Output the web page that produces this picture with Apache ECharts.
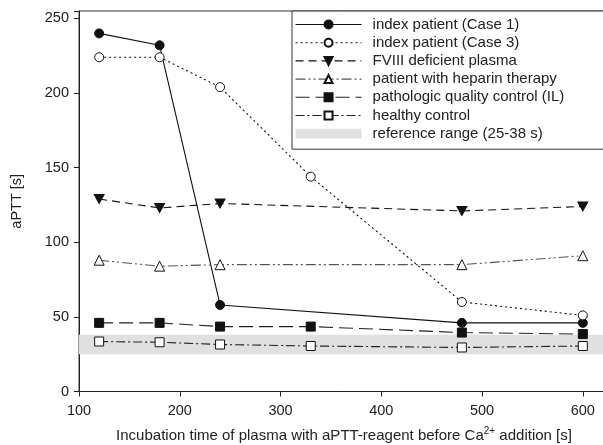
<!DOCTYPE html>
<html><head><meta charset="utf-8">
<script src="https://cdn.jsdelivr.net/npm/echarts@6/dist/echarts.min.js"></script>
<style>html,body{margin:0;padding:0;background:#fff}#c{width:603px;height:445px}</style>
</head><body><div id="c"></div>
<script>
const seriesNames = ['index patient (Case 1)','index patient (Case 3)','FVIII deficient plasma','patient with heparin therapy','pathologic quality control (IL)','healthy control'];
const refName = 'reference range (25-38 s)';
const case1X = [120,180,240,480,600];
const case1Y = [240,232,58,46,46];
const case3X = [120,180,240,330,480,600];
const case3Y = [224,224,204,144,60,51];
const fviiiX = [120,180,240,480,600];
const fviiiY = [129,123,126,121,124];
const heparinX = [120,180,240,480,600];
const heparinY = [88,84,85,85,91];
const pathX = [120,180,240,330,480,600];
const pathY = [46,46,43.5,43.5,39.5,38.5];
const healthyX = [120,180,240,330,480,600];
const healthyY = [33.5,33,31.5,30.5,29.5,30.5];
const refRange = [25,38];
const xTicks = [100,200,300,400,500,600];
const yTicks = [0,50,100,150,200,250];

const pair = (xs, ys) => xs.map((x,i)=>[x, ys[i]]);
const FONT = 'Liberation Sans, Arial, sans-serif';
const mk = (name, xs, ys, symbol, filled, size, dash, color) => ({
  type:'line', name, data: pair(xs,ys), symbol, symbolSize:size,
  lineStyle:{color: color||'#111', width:1.1, type: dash},
  itemStyle:{color: filled ? '#111' : '#fff', borderColor:'#111', borderWidth:1},
  emphasis:{disabled:true}, animation:false, z:3
});
const series = [
  {type:'line', name:refName, data:[], itemStyle:{color:'#e0e0e0'}, lineStyle:{color:'#e0e0e0'}, animation:false,
   markArea:{silent:true, itemStyle:{color:'#e0e0e0'}, data:[[{yAxis:refRange[0]},{yAxis:refRange[1]}]]}, z:1},
  mk(seriesNames[0], case1X, case1Y, 'circle', true, 9, 'solid'),
  mk(seriesNames[1], case3X, case3Y, 'circle', false, 9, [2,3]),
  mk(seriesNames[2], fviiiX, fviiiY, 'path://M0,0L10,0L5,9Z', true, [10,9], [8,5]),
  mk(seriesNames[3], heparinX, heparinY, 'triangle', false, 10, [10,3,2,3,2,3], '#555'),
  mk(seriesNames[4], pathX, pathY, 'rect', true, 9, [14,6], '#222'),
  mk(seriesNames[5], healthyX, healthyY, 'rect', false, 9, [9,3,2,3], '#222')
];
const chart = echarts.init(document.getElementById('c'), null, {renderer:'canvas'});
chart.setOption({
  backgroundColor:'#fff',
  animation:false,
  grid:{left:79, top:11, width:530, bottom:53.5, show:true, borderColor:'#333', borderWidth:1,
    containLabel:false, outerBoundsMode:'none'},
  xAxis:{type:'value', min:100, max:626, interval:100,
    name:'Incubation time of plasma with aPTT-reagent before Ca{sup|2+} addition [s]',
    nameLocation:'middle', nameGap:35,
    nameTextStyle:{fontFamily:FONT, fontSize:15, color:'#222', rich:{sup:{fontFamily:FONT, fontSize:10, color:'#222', padding:[0,0,8,0]}}},
    axisLine:{lineStyle:{color:'#222'}}, axisTick:{inside:false, length:5, lineStyle:{color:'#222'}},
    axisLabel:{fontFamily:FONT, fontSize:14.5, color:'#222', margin:12, showMaxLabel:false,
      formatter: v => xTicks.includes(v) ? String(v) : ''},
    splitLine:{show:false}},
  yAxis:{type:'value', min:0, max:255, interval:50,
    name:'aPTT [s]', nameLocation:'middle', nameGap:55,
    nameTextStyle:{fontFamily:FONT, fontSize:14.5, color:'#222'},
    axisLine:{show:true, lineStyle:{color:'#222'}}, axisTick:{show:true, length:5, lineStyle:{color:'#222'}},
    axisLabel:{fontFamily:FONT, fontSize:14.5, color:'#222', margin:10,
      formatter: v => yTicks.includes(v) ? String(v) : ''},
    splitLine:{show:false}},
  legend:{left:292, top:11, orient:'vertical', itemWidth:66, itemHeight:10, itemGap:3.2,
    padding:[6,70,8,3], borderColor:'#333', borderWidth:1, backgroundColor:'#fff',
    selectedMode:false, lineStyle:{width:1.1},
    textStyle:{fontFamily:FONT, fontSize:15, color:'#222', padding:[0,0,0,6]},
    data: seriesNames.map(n=>({name:n})).concat([{name:refName, icon:'rect', itemStyle:{color:'#e0e0e0'}}])},
  series
});
</script></body></html>
